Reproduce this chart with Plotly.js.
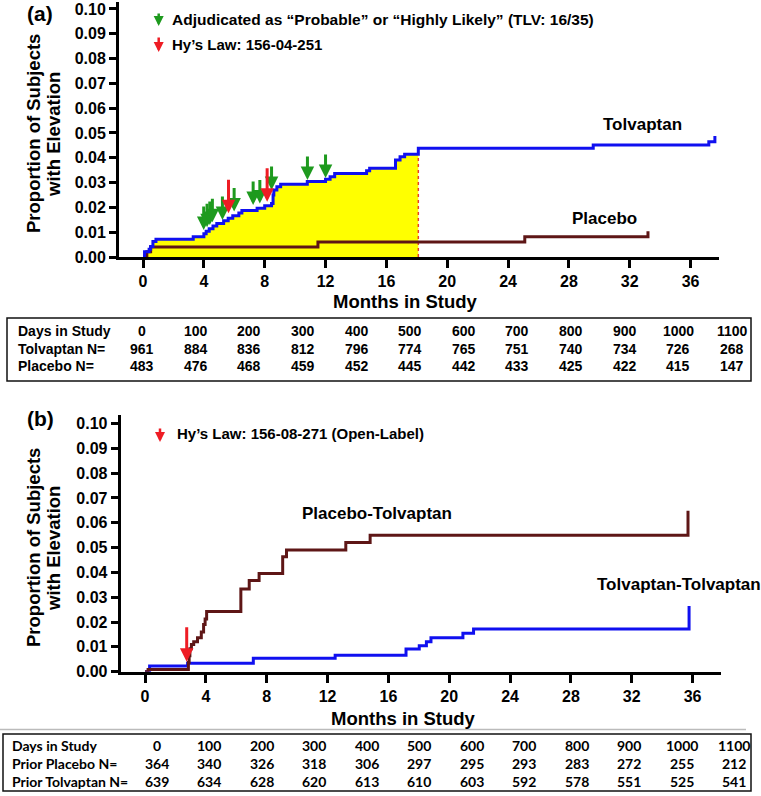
<!DOCTYPE html>
<html><head><meta charset="utf-8">
<script src="https://cdn.plot.ly/plotly-3.0.1.min.js"></script>
<style>html,body{margin:0;padding:0;background:#fff}#chart{width:761px;height:796px}</style>
</head><body><div id="chart"></div>
<script>
// ---------- Panel (a) data ----------
const tolvMonthsA = [0, 0.1, 0.4, 0.5, 0.65, 0.85, 3.3, 4.0, 4.15, 4.35, 4.6, 4.85, 5.3, 5.6, 5.9, 6.3, 6.5, 7.5, 8.0, 8.45, 8.55, 8.6, 8.8, 9.05, 10.8, 12.0, 12.3, 12.6, 14.7, 14.9, 16.6, 16.9, 17.2, 18.1, 29.6, 37.2, 37.6];
const tolvPropA   = [0.0005, 0.0021, 0.0031, 0.0042, 0.0062, 0.0072, 0.0082, 0.0094, 0.0104, 0.0114, 0.0125, 0.0135, 0.0146, 0.0156, 0.0166, 0.0177, 0.0187, 0.0197, 0.0207, 0.0216, 0.0250, 0.0270, 0.0283, 0.0293, 0.0304, 0.0313, 0.0324, 0.0337, 0.0348, 0.0358, 0.0391, 0.0404, 0.0414, 0.0438, 0.0452, 0.0465, 0.0488];
const placMonthsA = [0, 0.25, 0.5, 11.5, 25.1, 33.2];
const placPropA   = [0, 0.0021, 0.0040, 0.0060, 0.0082, 0.0104];
const doubleBlindEndMonth = 18.1;
const greenArrowMonthsA = [3.99, 4.21, 4.39, 4.56, 5.22, 5.99, 7.24, 7.68, 8.45, 10.81, 12.0];
const greenArrowPropA   = [0.0109, 0.0120, 0.0129, 0.0140, 0.0149, 0.0183, 0.0210, 0.0216, 0.0270, 0.0310, 0.0318];
const redArrowMonthsA = [5.62, 8.16];
const redArrowPropA   = [0.0176, 0.0223];
const legendTextA = ['Adjudicated as \u201cProbable\u201d or \u201cHighly Likely\u201d (TLV: 16/35)', 'Hy\u2019s Law: 156-04-251'];
const tableRowLabelsA = ['Days in Study', 'Tolvaptan N=', 'Placebo N='];
const daysInStudy = [0, 100, 200, 300, 400, 500, 600, 700, 800, 900, 1000, 1100];
const tolvN_A = [961, 884, 836, 812, 796, 774, 765, 751, 740, 734, 726, 268];
const placN_A = [483, 476, 468, 459, 452, 445, 442, 433, 425, 422, 415, 147];

// ---------- Panel (b) data ----------
const ptMonthsB = [0, 0.2, 2.85, 2.9, 2.95, 3.05, 3.2, 3.45, 3.7, 3.85, 3.95, 4.05, 6.3, 6.85, 7.5, 9.05, 9.3, 13.2, 14.8, 35.7];
const ptPropB   = [0, 0.0009, 0.0037, 0.0064, 0.0092, 0.0110, 0.0121, 0.0137, 0.0160, 0.0190, 0.0212, 0.0242, 0.0333, 0.0367, 0.0396, 0.0463, 0.0490, 0.0520, 0.0550, 0.0648];
const ttMonthsB = [0, 0.3, 2.8, 7.12, 12.5, 17.16, 18.03, 18.5, 18.8, 20.9, 21.6, 35.77];
const ttPropB   = [0, 0.0023, 0.0034, 0.0054, 0.0066, 0.0091, 0.0105, 0.0121, 0.0137, 0.0155, 0.0172, 0.0265];
const redArrowMonthsB = [2.74];
const redArrowPropB   = [0.0040];
const legendTextB = 'Hy\u2019s Law: 156-08-271 (Open-Label)';
const tableRowLabelsB = ['Days in Study', 'Prior Placebo N=', 'Prior Tolvaptan N='];
const priorPlacN_B = [364, 340, 326, 318, 306, 297, 295, 293, 283, 272, 255, 212];
const priorTolvN_B = [639, 634, 628, 620, 613, 610, 603, 592, 578, 551, 525, 541];

// ---------- styling / layout helpers ----------
const W = 761, H = 796;
const px = v => v / W;
const py = v => 1 - v / H;
const BLUE = '#1010F0', BROWN = '#5E1616', GREEN = '#1E9A1E', RED = '#EE1C24';
const ARIAL = 'Liberation Sans, Arial, sans-serif';
const CAL = 'Lato, Open Sans, sans-serif';

// fill region under tolvaptan up to end of double-blind
const fillX = [], fillY = [];
tolvMonthsA.forEach((m, i) => { if (m <= doubleBlindEndMonth) { fillX.push(m); fillY.push(tolvPropA[i]); } });
const propAtCut = fillY[fillY.length - 1];

const traces = [
  {x: fillX, y: fillY, mode: 'lines', line: {width: 0, shape: 'hv'}, fill: 'tozeroy', fillcolor: '#FFFF00', xaxis: 'x', yaxis: 'y', hoverinfo: 'skip'},
  {x: [doubleBlindEndMonth, doubleBlindEndMonth], y: [0, propAtCut], mode: 'lines', line: {color: '#E8402A', width: 1.5, dash: 'dot'}, xaxis: 'x', yaxis: 'y'},
  {x: placMonthsA, y: placPropA, mode: 'lines', line: {color: BROWN, width: 3, shape: 'hv'}, xaxis: 'x', yaxis: 'y', name: 'Placebo'},
  {x: tolvMonthsA, y: tolvPropA, mode: 'lines', line: {color: BLUE, width: 3, shape: 'hv'}, xaxis: 'x', yaxis: 'y', name: 'Tolvaptan'},
  {x: ttMonthsB, y: ttPropB, mode: 'lines', line: {color: BLUE, width: 3, shape: 'hv'}, xaxis: 'x2', yaxis: 'y2', name: 'Tolvaptan-Tolvaptan'},
  {x: ptMonthsB, y: ptPropB, mode: 'lines', line: {color: BROWN, width: 3, shape: 'hv'}, xaxis: 'x2', yaxis: 'y2', name: 'Placebo-Tolvaptan'}
];

const tickFont = {family: ARIAL, size: 16, color: '#000', weight: 'bold'};
function xAx(domain, anchor) {
  return {domain: domain, anchor: anchor, range: [-1.58, 37.87], tick0: 0, dtick: 4, showgrid: false, zeroline: false,
    showline: true, linewidth: 3, linecolor: '#000', ticks: 'outside', ticklen: 8, tickwidth: 3, tickcolor: '#000',
    tickfont: tickFont, fixedrange: true};
}
function yAx(domain, anchor, top) {
  return {domain: domain, anchor: anchor, range: [0, top], tick0: 0, dtick: 0.01, tickformat: '.2f', showgrid: false, zeroline: false,
    showline: true, linewidth: 3, linecolor: '#000', ticks: 'outside', ticklen: 7, tickwidth: 3, tickcolor: '#000',
    tickfont: tickFont, fixedrange: true};
}

const ann = [];
function txt(x, y, text, size, opts) {
  ann.push(Object.assign({xref: 'paper', yref: 'paper', x: px(x), y: py(y), text: text, showarrow: false,
    font: {family: ARIAL, size: size, color: '#000', weight: 'bold'}, xanchor: 'center', yanchor: 'middle'}, opts || {}));
}
function dataArrow(xr, yr, x, y, color, len) {
  ann.push({xref: xr, yref: yr, x: x, y: y, ax: 0, ay: -len, text: '', showarrow: true, arrowhead: 2, arrowsize: 0.9,
    arrowwidth: 3, arrowcolor: color, standoff: 0});
}
function paperArrow(x, yTip, len, color) {
  ann.push({xref: 'paper', yref: 'paper', x: px(x), y: py(yTip), ax: 0, ay: -len, text: '', showarrow: true, arrowhead: 2,
    arrowsize: 0.8, arrowwidth: 2.5, arrowcolor: color, standoff: 0});
}

// panel (a) arrows
greenArrowMonthsA.forEach((m, i) => dataArrow('x', 'y', m, greenArrowPropA[i], GREEN, 25));
redArrowMonthsA.forEach((m, i) => dataArrow('x', 'y', m, redArrowPropA[i], RED, 35));
// panel (b) arrow
redArrowMonthsB.forEach((m, i) => dataArrow('x2', 'y2', m, redArrowPropB[i], RED, 36));

// header legends
paperArrow(158.7, 26, 14, GREEN);
txt(170, 19, legendTextA[0], 15.5, {xanchor: 'left'});
paperArrow(158.7, 52, 16, RED);
txt(170, 44, legendTextA[1], 15, {xanchor: 'left'});
paperArrow(160, 442, 15, RED);
txt(175, 433, legendTextB, 15, {xanchor: 'left'});

// panel labels
txt(40, 13, '(a)', 21);
txt(40, 418, '(b)', 21);

// curve labels
txt(642, 124, 'Tolvaptan', 17);
txt(604, 218, 'Placebo', 17);
txt(377, 513, 'Placebo-Tolvaptan', 17);
txt(679, 584, 'Tolvaptan-Tolvaptan', 17);

// axis titles
txt(33, 134, 'Proportion of Subjects', 18.5, {textangle: -90});
txt(53, 134, 'with Elevation', 18.5, {textangle: -90});
txt(33, 548, 'Proportion of Subjects', 18.5, {textangle: -90});
txt(53, 548, 'with Elevation', 18.5, {textangle: -90});
txt(405, 302, 'Months in Study', 18.5);
txt(404, 718, 'Months in Study', 18.5);

// tables
function table(rowLabels, rows, labelX, rowY, col0, colN, fam, size) {
  const n = daysInStudy.length;
  rowLabels.forEach((lab, r) => {
    txt(labelX, rowY[r], lab, size, {xanchor: 'left', font: {family: fam, size: size, color: '#000', weight: 'bold'}});
    rows[r].forEach((v, c) => {
      txt(col0 + (colN - col0) * c / (n - 1), rowY[r], String(v), size, {font: {family: fam, size: size, color: '#000', weight: 'bold'}});
    });
  });
}
table(tableRowLabelsA, [daysInStudy, tolvN_A, placN_A], 16, [331, 348.5, 366], 142, 732, ARIAL, 14);
table(tableRowLabelsB, [daysInStudy, priorPlacN_B, priorTolvN_B], 10, [745, 763, 781], 157, 734, CAL, 14);

const shapes = [
  {type: 'rect', xref: 'paper', yref: 'paper', x0: px(7), x1: px(751), y0: py(318), y1: py(381), line: {color: '#111', width: 1.5}},
  {type: 'rect', xref: 'paper', yref: 'paper', x0: px(3), x1: px(751), y0: py(734), y1: py(791), line: {color: '#111', width: 1.5}},
  {type: 'line', xref: 'paper', yref: 'paper', x0: 0, x1: px(746), y0: py(729.5), y1: py(729.5), line: {color: '#BBBBBB', width: 1.5}}
];

const layout = {
  width: W, height: H, margin: {l: 0, r: 0, t: 0, b: 0}, paper_bgcolor: '#fff', plot_bgcolor: 'rgba(0,0,0,0)',
  showlegend: false,
  xaxis: xAx([px(119), px(719)], 'y'),
  yaxis: yAx([py(257), py(2)], 'x', 0.1028),
  xaxis2: xAx([px(120.7), px(720.7)], 'y2'),
  yaxis2: yAx([py(671.7), py(415)], 'x2', 0.1034),
  annotations: ann, shapes: shapes
};
layout.xaxis2.range = [-1.6, 37.85];

Plotly.newPlot('chart', traces, layout, {staticPlot: true, displayModeBar: false});
</script></body></html>
